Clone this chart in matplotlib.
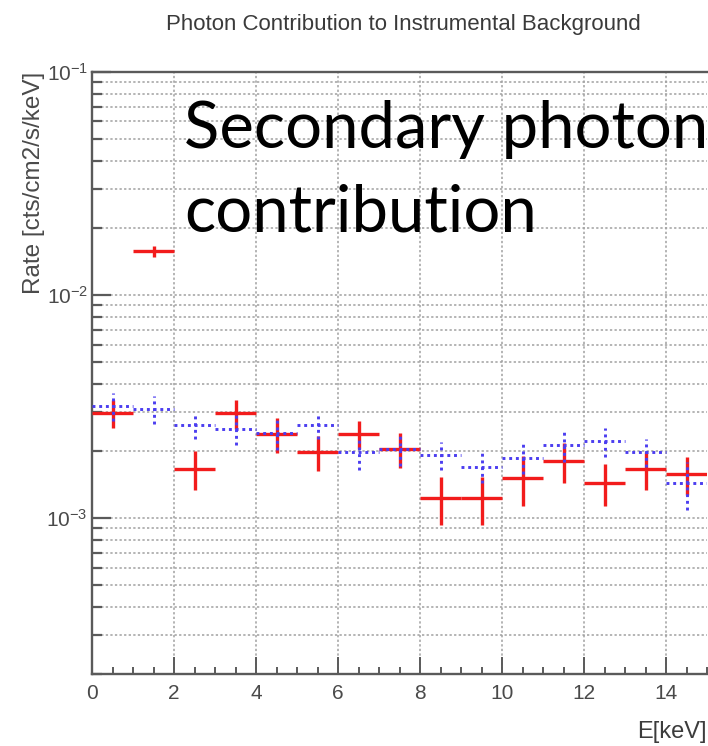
import numpy as np
import matplotlib
matplotlib.use("Agg")
import matplotlib.pyplot as plt
from matplotlib.ticker import LogLocator, MultipleLocator, NullFormatter

# Energy bins (keV), 1 keV wide
bin_centers = [0.5, 1.5, 2.5, 3.5, 4.5, 5.5, 6.5, 7.5, 8.5, 9.5, 10.5, 11.5, 12.5, 13.5, 14.5]
bin_half_width = 0.5

# Secondary photon rate (red) [cts/cm2/s/keV]
red_rate = [2.96e-3, 1.57e-2, 1.66e-3, 2.96e-3, 2.38e-3, 1.98e-3, 2.38e-3, 2.04e-3,
            1.23e-3, 1.23e-3, 1.51e-3, 1.80e-3, 1.44e-3, 1.66e-3, 1.57e-3]
red_err = [0.42e-3, 0.09e-2, 0.33e-3, 0.44e-3, 0.42e-3, 0.35e-3, 0.34e-3, 0.37e-3,
           0.30e-3, 0.30e-3, 0.38e-3, 0.37e-3, 0.31e-3, 0.32e-3, 0.30e-3]

# Comparison rate (blue, dotted)
blue_rate = [3.18e-3, 3.08e-3, 2.61e-3, 2.51e-3, 2.40e-3, 2.61e-3, 1.98e-3, 2.04e-3,
             1.92e-3, 1.69e-3, 1.86e-3, 2.12e-3, 2.21e-3, 1.98e-3, 1.44e-3]
blue_err = [0.45e-3, 0.43e-3, 0.34e-3, 0.38e-3, 0.38e-3, 0.34e-3, 0.33e-3, 0.33e-3,
            0.28e-3, 0.26e-3, 0.29e-3, 0.33e-3, 0.33e-3, 0.29e-3, 0.35e-3]

title = "Photon Contribution to Instrumental Background"
xlabel = "E[keV]"
ylabel = "Rate [cts/cm2/s/keV]"
caption_lines = ["Secondary photon", "contribution"]

plt.rcParams.update({
    "font.family": ["Liberation Sans", "DejaVu Sans"],
    "mathtext.fontset": "custom",
    "mathtext.rm": "Liberation Sans",
    "mathtext.it": "Liberation Sans:italic",
    "mathtext.bf": "Liberation Sans:bold",
    "mathtext.sf": "Liberation Sans",
})

W, H = 708, 746
fig = plt.figure(figsize=(W / 100, H / 100), dpi=100)
fig.patch.set_facecolor("white")

# axes frame in pixel terms: left 92, right 707, top 72, bottom 674
ax = fig.add_axes([92 / W, (H - 674) / H, 615 / W, 602 / H])
ax.set_yscale("log")
ax.set_xlim(0, 15)
ax.set_ylim(2e-4, 1e-1)

axis_gray = "#5a5a5a"
grid_gray = "#a0a0a0"

for side in ["left", "bottom", "top"]:
    ax.spines[side].set_color(axis_gray)
    ax.spines[side].set_linewidth(1.7)
ax.spines["right"].set_visible(False)

# ticks
ax.xaxis.set_major_locator(MultipleLocator(2))
ax.xaxis.set_minor_locator(MultipleLocator(0.5))
ax.yaxis.set_major_locator(LogLocator(base=10))
ax.yaxis.set_minor_locator(LogLocator(base=10, subs=np.arange(2, 10)))
ax.yaxis.set_minor_formatter(NullFormatter())

ax.tick_params(axis="x", which="major", direction="in", length=12, width=1.4,
               color=axis_gray, labelsize=15, labelcolor="#4a4a4a", pad=7,
               top=False)
ax.tick_params(axis="x", which="minor", direction="in", length=5, width=1.4,
               color=axis_gray, top=False)
ax.tick_params(axis="y", which="major", direction="in", length=14, width=1.6,
               color=axis_gray, labelsize=15, labelcolor="#4a4a4a", pad=3,
               right=False)
ax.tick_params(axis="y", which="minor", direction="in", length=7, width=1.6,
               color=axis_gray, right=False)

# dotted grid: vertical at major x ticks, horizontal at every log tick
ax.grid(True, axis="x", which="major", color=grid_gray, linestyle=(0, (1.5, 1.5)),
        linewidth=1.1)
ax.grid(True, axis="y", which="both", color=grid_gray, linestyle=(0, (1.5, 1.5)),
        linewidth=1.1)
ax.set_axisbelow(True)

# red crosses
ax.errorbar(bin_centers, red_rate, xerr=bin_half_width, yerr=red_err, fmt="none",
            ecolor="#f21c1c", elinewidth=2.4, capsize=0, zorder=3)

# blue dotted crosses
blue = ax.errorbar(bin_centers, blue_rate, xerr=bin_half_width, yerr=blue_err,
                   fmt="none", ecolor="#4b3df0", elinewidth=2.1, capsize=0, zorder=4)
for coll in blue[2]:
    coll.set_linestyle((0, (1.0, 1.3)))

# axis titles
ax.set_xlabel(xlabel, fontsize=17, color="#3c3c3c", loc="right")
ax.xaxis.set_label_coords(1.0, -0.078)
ax.set_ylabel(ylabel, fontsize=17.5, color="#4a4a4a", loc="top")
ax.yaxis.set_label_coords(-0.077, 1.0)

fig.text(403 / W, 1 - 30 / H, title, ha="center", va="baseline",
         fontsize=16, color="#3a3a3a")

# large caption over the plot area
fig.text(184 / W, 1 - 148 / H, caption_lines[0], ha="left", va="baseline",
         fontsize=47, family="Lato", color="black")
fig.text(184 / W, 1 - 232 / H, caption_lines[1], ha="left", va="baseline",
         fontsize=47, family="Lato", color="black")

fig.savefig("out.png", dpi=100, facecolor="white")
